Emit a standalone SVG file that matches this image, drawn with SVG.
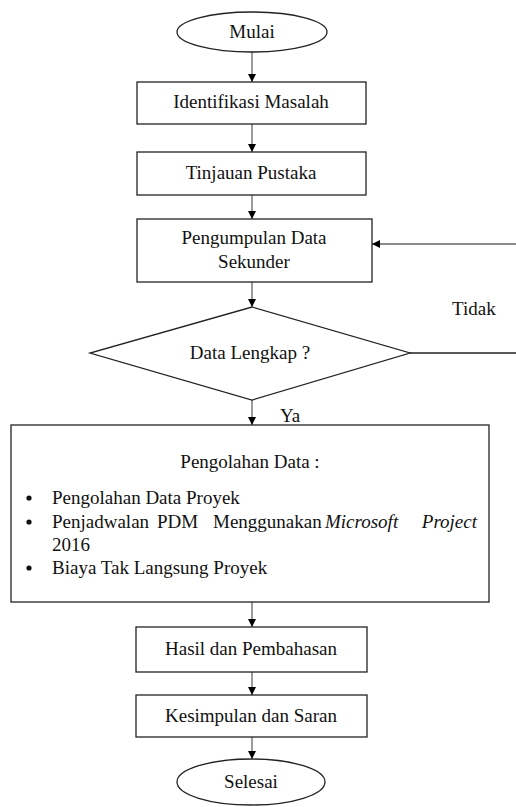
<svg xmlns="http://www.w3.org/2000/svg" width="516" height="807" viewBox="0 0 516 807" font-family="Liberation Serif, DejaVu Serif, Times New Roman, serif">
<style>
.n{fill:#fff;stroke:#222;stroke-width:1.3}
.t{font-size:19px;fill:#111}
.c{text-anchor:middle}
.e{fill:none;stroke:#666;stroke-width:1.3}
.k{fill:none;stroke:#222;stroke-width:1.3}
</style>
<defs>
<marker id="ah" viewBox="0 0 10 10" refX="10" refY="5" markerWidth="8" markerHeight="8" markerUnits="userSpaceOnUse" orient="auto">
<path d="M0,0 L10,5 L0,10 z" fill="#000"/>
</marker>
</defs>
<rect width="516" height="807" fill="#fff"/>
<g id="connectors">
<line class="e" x1="252" y1="52" x2="252" y2="82" marker-end="url(#ah)"/>
<line class="e" x1="252" y1="124" x2="252" y2="152" marker-end="url(#ah)"/>
<line class="e" x1="252" y1="195" x2="252" y2="219" marker-end="url(#ah)"/>
<line class="e" x1="252" y1="282" x2="252" y2="307" marker-end="url(#ah)"/>
<line class="e" x1="252" y1="400" x2="252" y2="425" marker-end="url(#ah)"/>
<line class="e" x1="252" y1="602" x2="252" y2="627" marker-end="url(#ah)"/>
<line class="e" x1="252" y1="672" x2="252" y2="695" marker-end="url(#ah)"/>
<line class="e" x1="252" y1="737" x2="252" y2="759" marker-end="url(#ah)"/>
<line class="k" x1="410" y1="353" x2="516" y2="353"/>
<line class="e" x1="516" y1="244" x2="372" y2="244" marker-end="url(#ah)"/>
<text class="t" x="452" y="315" font-family="Liberation Serif">Tidak</text>
<text class="t" x="280" y="422" font-family="Liberation Serif">Ya</text>
</g>
<g id="mulai" font-family="Liberation Serif">
<ellipse class="n" cx="252" cy="32" rx="75" ry="20"/>
<text class="t c" x="252" y="38">Mulai</text>
</g>
<g id="identifikasi" font-family="Liberation Serif">
<rect class="n" x="137" y="82" width="229" height="42"/>
<text class="t c" x="251" y="108">Identifikasi Masalah</text>
</g>
<g id="tinjauan" font-family="Liberation Serif">
<rect class="n" x="137" y="152" width="229" height="43"/>
<text class="t c" x="251" y="179">Tinjauan Pustaka</text>
</g>
<g id="pengumpulan" font-family="Liberation Serif">
<rect class="n" x="137" y="219" width="235" height="63"/>
<text class="t c" x="254" y="244">Pengumpulan Data</text>
<text class="t c" x="254" y="268">Sekunder</text>
</g>
<g id="decision" font-family="Liberation Serif">
<polygon class="n" points="252,307 410,353 252,400 90,353"/>
<text class="t c" x="250" y="359">Data Lengkap ?</text>
</g>
<g id="pengolahan" font-family="Liberation Serif">
<rect class="n" x="11" y="425" width="478" height="177"/>
<text class="t c" x="250" y="468">Pengolahan Data :</text>
<circle cx="29" cy="498" r="2.6" fill="#111"/>
<circle cx="29" cy="522" r="2.6" fill="#111"/>
<circle cx="29" cy="568" r="2.6" fill="#111"/>
<text class="t" x="52" y="504">Pengolahan Data Proyek</text>
<text class="t" x="52" y="528">Penjadwalan</text>
<text class="t" x="157" y="528">PDM</text>
<text class="t" x="213" y="528">Menggunakan</text>
<text class="t" x="325" y="528" font-style="italic">Microsoft</text>
<text class="t" x="477" y="528" font-style="italic" text-anchor="end">Project</text>
<text class="t" x="52" y="551">2016</text>
<text class="t" x="52" y="574">Biaya Tak Langsung Proyek</text>
</g>
<g id="hasil" font-family="Liberation Serif">
<rect class="n" x="136" y="627" width="231" height="45"/>
<text class="t c" x="251" y="655">Hasil dan Pembahasan</text>
</g>
<g id="kesimpulan" font-family="Liberation Serif">
<rect class="n" x="136" y="695" width="231" height="42"/>
<text class="t c" x="251" y="722">Kesimpulan dan Saran</text>
</g>
<g id="selesai" font-family="Liberation Serif">
<ellipse class="n" cx="251" cy="782" rx="74" ry="23"/>
<text class="t c" x="251" y="788">Selesai</text>
</g>
</svg>
